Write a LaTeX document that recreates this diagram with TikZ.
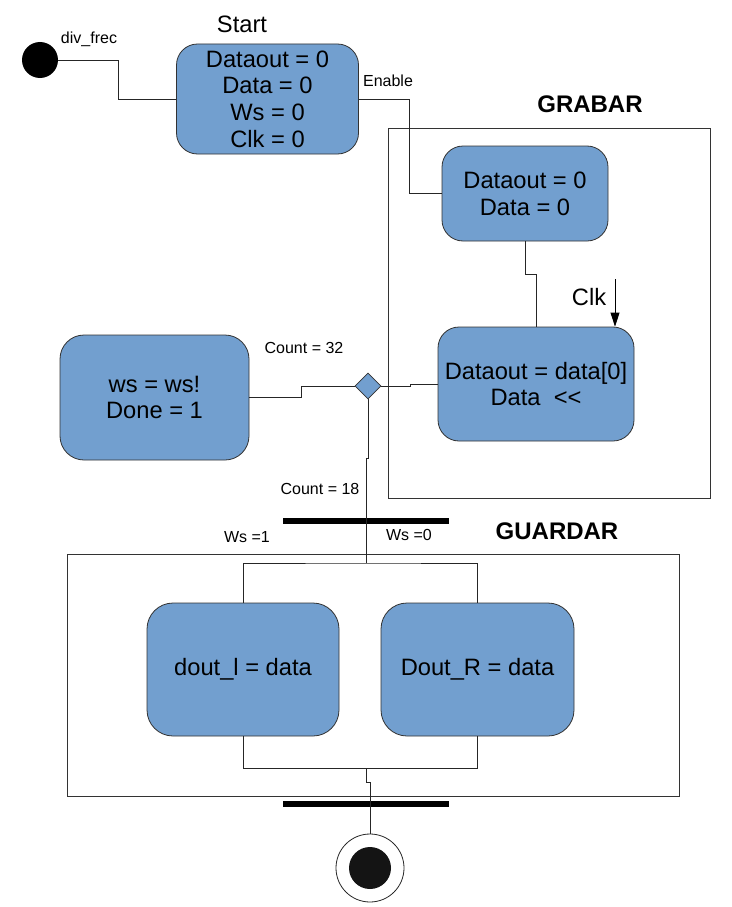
\documentclass[tikz,border=0pt]{standalone}
\usepackage{fontspec}
\setmainfont{Liberation Sans}
\usepackage{tikz}
\usetikzlibrary{arrows,arrows.meta,shapes,positioning}
\definecolor{stblue}{RGB}{114,159,207}
\definecolor{stedge}{RGB}{50,50,50}
\tikzstyle{state} = [rectangle, rounded corners=21pt, draw=stedge, fill=stblue, line width=0.8pt, inner sep=0pt, align=center, font=\fontsize{23.7}{26.7}\selectfont]
\tikzstyle{line} = [line width=0.8pt, color=black!85]
\tikzstyle{arrow} = [line width=0.8pt, -{Triangle[length=14pt,width=9pt]}, color=black]
\tikzstyle{bar} = [rectangle, fill=black, minimum width=166pt, minimum height=6pt, inner sep=0pt]
\tikzstyle{lbl} = [font=\fontsize{16}{19}\selectfont, inner sep=0pt]
\tikzstyle{big} = [font=\fontsize{23.7}{26.7}\selectfont, inner sep=0pt]
\tikzstyle{title} = [font=\bfseries\fontsize{24}{28}\selectfont, inner sep=0pt]
\tikzstyle{region} = [draw=black!80, line width=0.8pt]

\begin{document}
\begin{tikzpicture}[x=1pt, y=-1pt]
\useasboundingbox (0,0) rectangle (731,907);

% Regions
\draw[region] (388,128) rectangle (710,498);
\draw[region] (67,554) rectangle (679,796);
\node[title] (grabar) at (590,104) {GRABAR};
\node[title] (guardar) at (557,531) {GUARDAR};

% Start
\node[circle, fill=black, minimum size=36pt, inner sep=0pt] (init) at (40,60) {};
\node[state, minimum width=182pt, minimum height=110pt] (start) at (267.5,99) {Dataout = 0\\Data = 0\\Ws = 0\\Clk = 0};
\node[big] (startlbl) at (242,24) {Start};
\node[lbl] (divfrec) at (89,39) {div\_frec};
\node[lbl] (enable) at (388,81) {Enable};

% GRABAR states
\node[state, minimum width=166pt, minimum height=95pt] (clear) at (525,193.5) {Dataout = 0\\Data = 0};
\node[state, minimum width=196pt, minimum height=114pt] (shift) at (536,384) {Dataout = data[0]\\Data~~<{}<};
\node[big] (clklbl) at (589,297) {Clk};
\coordinate (clk) at (615,279);

% Decision
\node[diamond, draw=stedge, fill=stblue, line width=0.8pt, minimum width=26pt, minimum height=26pt, inner sep=0pt] (choice) at (368,386) {};
\node[state, rounded corners=24pt, minimum width=189pt, minimum height=125pt] (done) at (154.5,397.5) {ws = ws!\\Done = 1};
\node[lbl] (count32) at (304,348) {Count = 32};
\node[lbl] (count18) at (320,489) {Count = 18};

% GUARDAR
\node[bar] (forkbar) at (366,520.5) {};
\node[lbl] (ws1) at (247,537) {Ws =1};
\node[lbl] (ws0) at (409,535) {Ws =0};
\coordinate (split) at (366,563);
\node[state, rounded corners=26pt, minimum width=192pt, minimum height=133pt] (dl) at (243,669.5) {dout\_l = data};
\node[state, rounded corners=26pt, minimum width=193pt, minimum height=133pt] (dr) at (477.5,669.5) {Dout\_R = data};
\coordinate (join) at (366,768);
\node[bar] (joinbar) at (366,804) {};

% End
\node[circle, draw=black!85, line width=0.8pt, minimum size=68pt, inner sep=0pt] (final) at (370,868) {};
\node[circle, fill=black!92, minimum size=42pt, inner sep=0pt] (finaldot) at (final) {};

% Connectors
\draw[line] (init.east) -- ++(60,0) |- (start.west);
\draw[line] (start.east) -- ++(50,0) |- (clear.west);
\draw[line] (clear.south) -- ++(0,33) -| (shift.north);
\draw[arrow] (clk) -- (clk |- shift.north);
\draw[line] (choice.east) -- ++(29,0) |- (shift.west);
\draw[line] (choice.west) -- ++(-53,0) |- (done.east);
\draw[line] (choice.south) -- ++(0,59) -| (split);
\draw[line] (dl.north) |- (split) -| (dr.north);
\draw[line] (dl.south) |- (join) -| (dr.south);
\draw[line] (join) -- ++(0,14) -| (final.north);
\end{tikzpicture}
\end{document}
